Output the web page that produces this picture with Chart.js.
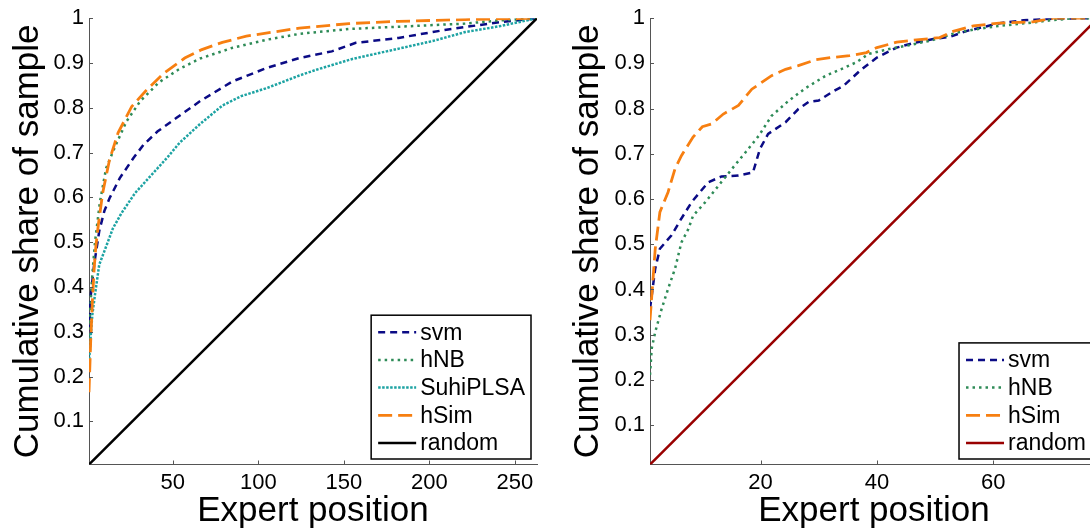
<!DOCTYPE html>
<html>
<head>
<meta charset="utf-8">
<script src="https://cdn.jsdelivr.net/npm/chart.js@4.4.1/dist/chart.umd.min.js"></script>
<style>
  html, body { margin: 0; padding: 0; background: #fff; overflow: hidden; width: 1090px; height: 529px; }
  .panel { position: absolute; top: 0; }
  #leftPanel  { left: 0; }
  #rightPanel { left: 560px; }
</style>
</head>
<body>
<div class="panel" id="leftPanel"><canvas id="leftChart" width="545" height="529"></canvas></div>
<div class="panel" id="rightPanel"><canvas id="rightChart" width="555" height="529"></canvas></div>
<script>
/* ── Data: left panel (263 experts) ─────────────────────────── */
const leftN = 263;
const leftXTicks = [50, 100, 150, 200, 250];

const leftSvmX  = [1, 2, 4, 7, 10, 13, 19, 27, 33, 41, 52, 66, 85, 105, 124, 143, 157, 182, 211, 241, 263];
const leftSvmY  = [0.30, 0.38, 0.45, 0.525, 0.57, 0.598, 0.643, 0.688, 0.718, 0.747, 0.777, 0.815, 0.859, 0.889, 0.911, 0.926, 0.945, 0.956, 0.975, 0.991, 1];

const leftHnbX  = [1, 2, 3, 4.5, 7.4, 11, 17, 23, 31, 42, 54, 66, 85, 105, 124, 153, 182, 221, 241, 263];
const leftHnbY  = [0.29, 0.37, 0.43, 0.5, 0.59, 0.665, 0.72, 0.77, 0.815, 0.857, 0.887, 0.91, 0.934, 0.952, 0.965, 0.976, 0.981, 0.988, 0.995, 1];

const leftPlsaX = [1, 2, 3, 4.5, 7, 10, 15, 20, 28, 38, 47, 54, 66, 79, 90, 105, 124, 134, 155, 175, 202, 221, 241, 263];
const leftPlsaY = [0.23, 0.29, 0.34, 0.383, 0.45, 0.48, 0.531, 0.565, 0.61, 0.652, 0.69, 0.722, 0.764, 0.805, 0.826, 0.844, 0.872, 0.885, 0.909, 0.926, 0.949, 0.969, 0.982, 1];

const leftHsimX = [1, 2, 3, 4, 5, 6.5, 9, 13, 18, 26, 34, 45, 57, 67, 79, 93, 124, 153, 182, 221, 263];
const leftHsimY = [0.165, 0.28, 0.37, 0.44, 0.49, 0.54, 0.61, 0.684, 0.744, 0.803, 0.837, 0.878, 0.911, 0.93, 0.946, 0.96, 0.978, 0.988, 0.993, 0.997, 1];

const leftRandX = [1, 263];
const leftRandY = [0.0038, 1];

/* ── Data: right panel (78 experts) ─────────────────────────── */
const rightN = 78;
const rightXTicks = [20, 40, 60];

const rightSvmX  = [1, 1.9, 2.7, 4.7, 6.4, 8.2, 11, 13.3, 16.2, 18.7, 19.9, 21.3, 24.3, 26.5, 28.3, 30, 32.2, 34.3, 37.1, 40, 43.4, 46.3, 49.7, 52.6, 55.5, 61.1, 65.7, 70.3, 78];
const rightSvmY  = [0.357, 0.446, 0.49, 0.52, 0.557, 0.594, 0.637, 0.65, 0.652, 0.659, 0.711, 0.744, 0.77, 0.799, 0.815, 0.818, 0.836, 0.851, 0.884, 0.913, 0.935, 0.945, 0.954, 0.959, 0.972, 0.989, 0.996, 0.999, 1];

const rightHnbX  = [1, 1.3, 1.9, 3, 4.1, 5.3, 6.4, 7.6, 8.4, 10.5, 12.8, 15.1, 17.4, 19.7, 21.9, 24.8, 27.7, 31.1, 34.5, 36.4, 38.6, 42.1, 45.5, 49.7, 53.7, 57.7, 61.1, 65.7, 70.3, 74, 78];
const rightHnbY  = [0.211, 0.27, 0.306, 0.357, 0.401, 0.446, 0.504, 0.534, 0.563, 0.593, 0.63, 0.667, 0.703, 0.74, 0.784, 0.817, 0.845, 0.872, 0.891, 0.902, 0.921, 0.932, 0.94, 0.952, 0.968, 0.977, 0.983, 0.989, 0.996, 1, 1];

const rightHsimX = [1, 1.9, 2.7, 4.1, 5.3, 6.4, 8.4, 10, 11.6, 13.6, 16.2, 18.5, 21.9, 24.3, 26.5, 29.5, 32.2, 35.3, 38.2, 40, 43.4, 46.8, 50.8, 53.1, 56.6, 61, 66.8, 70.3, 78];
const rightHsimY = [0.332, 0.49, 0.571, 0.615, 0.667, 0.696, 0.737, 0.76, 0.766, 0.788, 0.807, 0.843, 0.873, 0.887, 0.895, 0.908, 0.913, 0.917, 0.924, 0.935, 0.947, 0.952, 0.957, 0.971, 0.983, 0.989, 0.992, 1, 1];

const rightRandX = [1, 78];
const rightRandY = [0.0128, 1];

const yTicks = [0.1, 0.2, 0.3, 0.4, 0.5, 0.6, 0.7, 0.8, 0.9, 1];

/* ── Shared look ───────────────────────────────────────────── */
const FONT       = "'Liberation Sans', Arial, Helvetica, sans-serif";
const AXIS_COLOR = '#555';
const STYLE = {
  svm:       { color: '#0b0b85', dash: [7, 5],     width: 2.5 },
  hNB:       { color: '#2e8b57', dash: [2.5, 4],   width: 2.5 },
  SuhiPLSA:  { color: '#1da3a3', dash: [2.5, 1.5], width: 2.5 },
  hSim:      { color: '#f77f11', dash: [14, 6],    width: 2.8 },
};

const pts = (xs, ys) => xs.map((x, i) => ({ x, y: ys[i] }));

function series(label, xs, ys, style, order) {
  return {
    label,
    data: pts(xs, ys),
    borderColor: style.color,
    borderDash: style.dash,
    borderWidth: style.width,
    borderCapStyle: 'butt',
    pointRadius: 0,
    tension: 0,
    fill: false,
    order,
  };
}

/* Tick marks pointing into the plot, MATLAB style */
const innerTicks = {
  id: 'innerTicks',
  afterDatasetsDraw(chart) {
    const { ctx, chartArea: a, scales: { x, y } } = chart;
    ctx.save();
    ctx.strokeStyle = AXIS_COLOR;
    ctx.lineWidth = 1;
    ctx.beginPath();
    x.ticks.forEach(t => {
      const p = Math.round(x.getPixelForValue(t.value)) + 0.5;
      ctx.moveTo(p, a.bottom);
      ctx.lineTo(p, a.bottom - 4);
    });
    y.ticks.forEach(t => {
      const p = Math.round(y.getPixelForValue(t.value)) + 0.5;
      ctx.moveTo(a.left, p);
      ctx.lineTo(a.left + 4, p);
    });
    ctx.stroke();
    ctx.restore();
  },
};

/* Boxed legend in the lower right corner of the plot */
const boxLegend = {
  id: 'boxLegend',
  afterDraw(chart) {
    const { ctx, chartArea: a } = chart;
    const sets = chart.data.datasets;
    const rowGap = 27.7;
    ctx.save();
    ctx.font = `23px ${FONT}`;
    const textW = Math.max(...sets.map(d => ctx.measureText(d.label).width));
    const w = 7 + 38 + 4 + textW + 6;
    const h = 17 + (sets.length - 1) * rowGap + 16;
    const left = a.right - 6 - w;
    const top  = a.bottom - 5.5 - h;
    ctx.fillStyle = '#fff';
    ctx.fillRect(left, top, w, h);
    ctx.strokeStyle = '#000';
    ctx.lineWidth = 1.5;
    ctx.strokeRect(left, top, w, h);
    sets.forEach((d, i) => {
      const yy = top + 17 + i * rowGap;
      ctx.beginPath();
      ctx.setLineDash(d.borderDash || []);
      ctx.lineCap = 'butt';
      ctx.strokeStyle = d.borderColor;
      ctx.lineWidth = d.borderWidth;
      ctx.moveTo(left + 7, yy);
      ctx.lineTo(left + 45, yy);
      ctx.stroke();
      ctx.setLineDash([]);
      ctx.fillStyle = '#000';
      ctx.textBaseline = 'middle';
      ctx.textAlign = 'left';
      ctx.fillText(d.label, left + 49, yy + 1);
    });
    ctx.restore();
  },
};

function makeChart(id, cfg) {
  return new Chart(document.getElementById(id), {
    type: 'line',
    data: { datasets: cfg.datasets },
    options: {
      responsive: false,
      animation: false,
      events: [],
      layout: { padding: { top: 17, right: cfg.padRight, left: 0, bottom: 0 } },
      plugins: { legend: { display: false }, tooltip: { enabled: false } },
      scales: {
        x: {
          type: 'linear',
          min: 1,
          max: cfg.n,
          afterBuildTicks: s => { s.ticks = cfg.xTicks.map(v => ({ value: v })); },
          afterFit: s => { s.height = 529 - 464.5; },
          grid: { display: false, drawTicks: false },
          border: { display: true, color: AXIS_COLOR, width: 1 },
          ticks: { color: '#000', font: { family: FONT, size: 22 }, padding: 5, maxRotation: 0, autoSkip: false },
          title: {
            display: true, text: 'Expert position', color: '#000',
            font: { family: FONT, size: 35, lineHeight: 1 }, padding: { top: 0, bottom: 0 },
          },
        },
        y: {
          type: 'linear',
          min: cfg.yMin,
          max: 1,
          afterBuildTicks: s => { s.ticks = yTicks.map(v => ({ value: v })); },
          afterFit: s => { s.width = cfg.yWidth; },
          grid: { display: false, drawTicks: false },
          border: { display: true, color: AXIS_COLOR, width: 1 },
          ticks: {
            color: '#000', font: { family: FONT, size: 22 }, padding: 5,
            callback: v => (v === 1 ? '1' : v.toFixed(1)),
          },
          title: {
            display: true, text: 'Cumulative share of sample', color: '#000',
            font: { family: FONT, size: 35, lineHeight: 1 }, padding: { top: 11, bottom: 0 },
          },
        },
      },
    },
    plugins: [innerTicks, boxLegend],
  });
}

/* ── Left panel ────────────────────────────────────────────── */
makeChart('leftChart', {
  n: leftN,
  xTicks: leftXTicks,
  yMin: 1 / leftN,
  yWidth: 89,
  padRight: 8,
  datasets: [
    series('svm',      leftSvmX,  leftSvmY,  STYLE.svm,      4),
    series('hNB',      leftHnbX,  leftHnbY,  STYLE.hNB,      3),
    series('SuhiPLSA', leftPlsaX, leftPlsaY, STYLE.SuhiPLSA, 2),
    series('hSim',     leftHsimX, leftHsimY, STYLE.hSim,     1),
    series('random',   leftRandX, leftRandY, { color: '#000', dash: [], width: 2.5 }, 0),
  ],
});

/* ── Right panel (cropped at the window edge) ──────────────── */
makeChart('rightChart', {
  n: rightN,
  xTicks: rightXTicks,
  yMin: 1 / rightN,
  yWidth: 90,
  padRight: 17,
  datasets: [
    series('svm',    rightSvmX,  rightSvmY,  STYLE.svm,  3),
    series('hNB',    rightHnbX,  rightHnbY,  STYLE.hNB,  2),
    series('hSim',   rightHsimX, rightHsimY, STYLE.hSim, 1),
    series('random', rightRandX, rightRandY, { color: '#990000', dash: [], width: 2.5 }, 0),
  ],
});
</script>
</body>
</html>
